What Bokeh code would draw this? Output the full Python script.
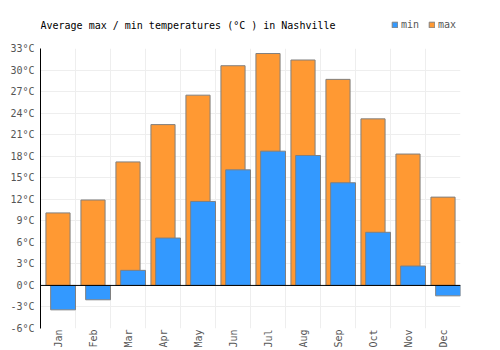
import numpy as np
from bokeh.plotting import figure
from bokeh.layouts import column
from bokeh.models import (ColumnDataSource, Range1d, FixedTicker, PrintfTickFormatter, Span,
                          Legend, LegendItem, Label)
from bokeh.transform import dodge
from bokeh.embed import file_html
from bokeh.resources import INLINE

months = ["Jan", "Feb", "Mar", "Apr", "May", "Jun", "Jul", "Aug", "Sep", "Oct", "Nov", "Dec"]
t_max = [10.1, 11.9, 17.2, 22.4, 26.5, 30.6, 32.3, 31.4, 28.7, 23.2, 18.3, 12.3]
t_min = [-3.4, -2.0, 2.1, 6.6, 11.7, 16.1, 18.7, 18.1, 14.3, 7.4, 2.7, -1.45]
y_ticks = list(range(-6, 34, 3))
title = "Average max / min temperatures (°C ) in Nashville"
series_names = ["min", "max"]

FONT = "DejaVu Sans Mono"
BLUE = "#3399ff"
ORANGE = "#ff9933"
EDGE = "#808080"
HEADER_H = 40
BL, BR = 40, 40

# ---------- header: title + legend ----------
hdr = figure(width=500, height=HEADER_H, output_backend="svg", toolbar_location=None, title=None,
             x_range=Range1d(BL, 500 - BR), y_range=Range1d(HEADER_H, 0),
             x_axis_type=None, y_axis_type=None,
             min_border_left=BL, min_border_right=BR, min_border_top=0, min_border_bottom=0)
hdr.grid.visible = False
hdr.outline_line_color = None
hdr.add_layout(Label(x=BL, y=25, text=title, text_font=FONT, text_font_size="10px",
                     text_color="#000000", text_baseline="middle", text_align="left"))
# legend-only renderers (no visible bars: their single row is NaN)
key_src = ColumnDataSource(dict(x=[np.nan], top=[np.nan]))
d_min = hdr.vbar(x="x", top="top", width=1, source=key_src, fill_color=BLUE, line_color=EDGE)
d_max = hdr.vbar(x="x", top="top", width=1, source=key_src, fill_color=ORANGE, line_color=EDGE)
legend = Legend(items=[LegendItem(label=series_names[0], renderers=[d_min]),
                       LegendItem(label=series_names[1], renderers=[d_max])],
                orientation="horizontal", location=(391 - BL, HEADER_H - 30),
                glyph_width=7, glyph_height=7, label_standoff=3, spacing=7,
                padding=0, margin=0, border_line_color=None, background_fill_alpha=0,
                label_text_font=FONT, label_text_font_size="10px", label_text_color="#555555",
                label_height=10, label_text_baseline="middle")
hdr.add_layout(legend, "center")

# ---------- main chart ----------
src = ColumnDataSource(dict(x=np.arange(len(months)) + 0.5, tmax=t_max, tmin=t_min))

p = figure(width=500, height=350 - HEADER_H, output_backend="svg", toolbar_location=None, title=None,
           x_range=Range1d(0, len(months)), y_range=Range1d(-6, 33),
           min_border_left=BL, min_border_right=BR, min_border_top=8, min_border_bottom=10)

p.vbar(x=dodge("x", 0.0, range=p.x_range), top="tmax", bottom=0, width=0.69, source=src,
       fill_color=ORANGE, line_color=EDGE, line_width=1)
p.vbar(x=dodge("x", 0.145, range=p.x_range), top="tmin", bottom=0, width=0.71, source=src,
       fill_color=BLUE, line_color=EDGE, line_width=1)

p.add_layout(Span(location=0, dimension="width", line_color="black", line_width=1))

p.outline_line_color = None

p.xgrid.ticker = FixedTicker(ticks=list(range(len(months) + 1)))
p.ygrid.ticker = FixedTicker(ticks=y_ticks)
for g in (p.xgrid, p.ygrid):
    g.grid_line_color = "#eeeeee"
    g.grid_line_width = 1

xa = p.xaxis[0]
xa.ticker = FixedTicker(ticks=list(np.arange(len(months)) + 0.5))
xa.major_label_overrides = {float(i + 0.5): m for i, m in enumerate(months)}
xa.major_label_orientation = np.pi / 2
xa.axis_line_color = None
xa.major_tick_line_color = None
xa.minor_tick_line_color = None
xa.major_tick_out = 0
xa.major_tick_in = 0
xa.major_label_text_font = FONT
xa.major_label_text_font_size = "10px"
xa.major_label_text_color = "#555555"
xa.major_label_standoff = 1

ya = p.yaxis[0]
ya.ticker = FixedTicker(ticks=y_ticks)
ya.formatter = PrintfTickFormatter(format="%d°C")
ya.axis_line_color = "black"
ya.axis_line_width = 1
ya.major_tick_line_color = None
ya.minor_tick_line_color = None
ya.major_tick_out = 0
ya.major_tick_in = 0
ya.major_label_text_font = FONT
ya.major_label_text_font_size = "10px"
ya.major_label_text_color = "#555555"
ya.major_label_standoff = 6

layout = column(hdr, p, spacing=0)
open("out.html", "w").write(file_html(layout, INLINE))
